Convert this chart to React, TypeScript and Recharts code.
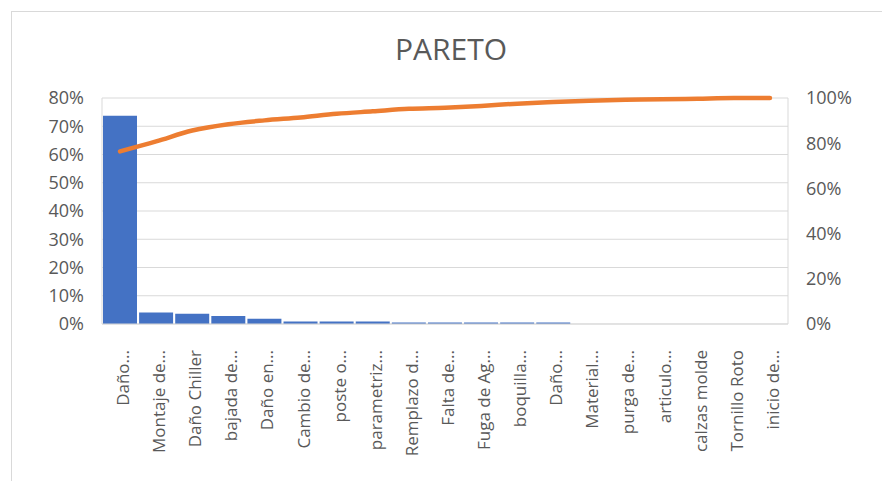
import React from "react";
import { ComposedChart, Bar, Line, XAxis, YAxis, CartesianGrid } from "recharts";

const categories = [
  "Daño...",
  "Montaje de...",
  "Daño Chiller",
  "bajada de...",
  "Daño en...",
  "Cambio de...",
  "poste o...",
  "parametriz...",
  "Remplazo d...",
  "Falta de...",
  "Fuga de Ag...",
  "boquilla...",
  "Daño...",
  "Material...",
  "purga de...",
  "articulo...",
  "calzas molde",
  "Tornillo Roto",
  "inicio de...",
];

const barValues = [73.7, 4.1, 3.6, 2.8, 1.9, 0.9, 0.9, 0.9, 0.5, 0.5, 0.5, 0.5, 0.5, 0, 0, 0, 0, 0, 0];
const cumulativeValues = [76.4, 80.8, 85.6, 88.4, 90.1, 91.4, 93.0, 94.1, 95.2, 95.7, 96.5, 97.5, 98.2, 98.8, 99.2, 99.4, 99.7, 100, 100];

const leftTicks = [0, 10, 20, 30, 40, 50, 60, 70, 80];
const rightTicks = [0, 20, 40, 60, 80, 100];

const data = categories.map((name, i) => ({
  idx: i,
  name,
  pct: barValues[i],
  cum: cumulativeValues[i],
}));

const FONT = "'Open Sans', sans-serif";
const TEXT = "#595959";
const GRID = "#d9d9d9";

const XTick = (props: any) => {
  const { x, y, payload } = props;
  const label = categories[payload.value] ?? "";
  return (
    <g transform={`translate(${x + 3},${y + 18}) rotate(-90)`}>
      <text textAnchor="end" dy="0.35em" fill={TEXT} fontSize={17} fontFamily={FONT}>
        {label}
      </text>
    </g>
  );
};

export default function App() {
  return (
    <div style={{ position: "absolute", left: 0, top: 0, width: 882, height: 481, background: "#fff" }}>
      <div
        style={{
          position: "absolute",
          left: 11,
          top: 11,
          right: 0,
          bottom: 0,
          borderTop: `1px solid ${GRID}`,
          borderLeft: `1px solid ${GRID}`,
        }}
      />
      <svg style={{ position: "absolute", left: 0, top: 0 }} width={882} height={80}>
        <text x={451} y={59.5} textAnchor="middle" fill={TEXT} fontSize={30} fontFamily={FONT}>
          PARETO
        </text>
      </svg>
      <div style={{ position: "absolute", left: 0, top: 0 }}>
        <ComposedChart
          width={882}
          height={481}
          data={data}
          margin={{ top: 98, right: 0, bottom: 0, left: 0 }}
          barCategoryGap={1}
        >
          <CartesianGrid yAxisId="left" vertical={false} stroke={GRID} strokeWidth={1} />
          <XAxis
            dataKey="idx"
            type="category"
            height={157}
            tick={<XTick />}
            tickLine={false}
            axisLine={{ stroke: GRID }}
            interval={0}
          />
          <YAxis
            yAxisId="left"
            orientation="left"
            width={102}
            domain={[0, 80]}
            ticks={leftTicks}
            tickFormatter={(v: number) => `${v}%`}
            tickLine={false}
            tickSize={0}
            tickMargin={18}
            axisLine={{ stroke: GRID }}
            tick={{ fill: TEXT, fontSize: 18, fontFamily: FONT }}
            allowDataOverflow
          />
          <YAxis
            yAxisId="right"
            orientation="right"
            width={94}
            domain={[0, 100]}
            ticks={rightTicks}
            tickFormatter={(v: number) => `${v}%`}
            tickLine={false}
            tickSize={0}
            tickMargin={18}
            axisLine={{ stroke: GRID }}
            tick={{ fill: TEXT, fontSize: 18, fontFamily: FONT, textAnchor: "start" }}
          />
          <Bar yAxisId="left" dataKey="pct" fill="#4472C4" isAnimationActive={false} />
          <Line
            yAxisId="right"
            dataKey="cum"
            type="monotone"
            stroke="#ED7D31"
            strokeWidth={4.5}
            strokeLinecap="round"
            dot={false}
            activeDot={false}
            isAnimationActive={false}
          />
        </ComposedChart>
      </div>
    </div>
  );
}
